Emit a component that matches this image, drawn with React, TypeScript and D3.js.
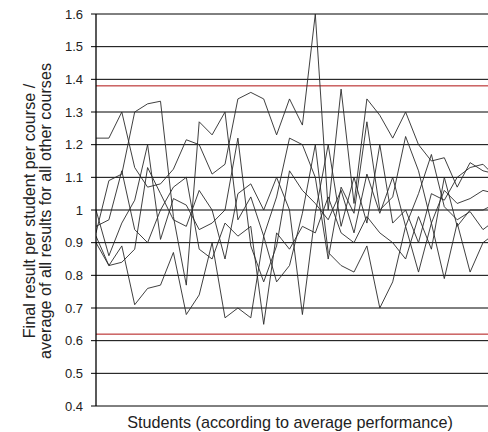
import React from "react";
import * as d3 from "d3";

const yTicks = [0.4, 0.5, 0.6, 0.7, 0.8, 0.9, 1.0, 1.1, 1.2, 1.3, 1.4, 1.5, 1.6];
const redLevels = [1.38, 0.62];

const s1 = [1.22, 1.22, 1.30, 1.13, 1.07, 1.08, 1.125, 1.215, 1.20, 1.11, 1.14, 1.34, 1.36, 1.34, 1.23, 1.34, 1.26, 1.60, 1.00, 1.37, 1.02, 1.34, 1.29, 1.22, 1.30, 1.20, 1.15, 1.16, 1.07, 1.145, 1.12, 1.11];
const s2 = [0.93, 1.09, 1.11, 1.30, 1.325, 1.333, 0.98, 0.77, 1.27, 1.23, 1.30, 0.97, 1.04, 0.92, 1.04, 1.22, 1.20, 1.10, 0.85, 1.07, 0.99, 1.27, 1.00, 1.04, 1.225, 1.12, 0.96, 1.06, 1.02, 1.035, 1.06, 1.05];
const s3 = [1.00, 0.86, 0.96, 1.03, 1.20, 0.91, 1.035, 1.015, 0.94, 0.96, 1.00, 1.22, 0.89, 0.78, 0.89, 1.12, 1.06, 1.02, 0.97, 1.06, 0.93, 1.11, 0.99, 1.10, 0.95, 1.05, 1.17, 1.01, 0.97, 0.995, 0.94, 0.97];
const s4 = [0.92, 0.83, 0.89, 0.71, 0.76, 0.77, 0.87, 0.68, 0.74, 0.90, 0.67, 0.70, 0.67, 0.92, 0.78, 0.83, 0.99, 1.20, 0.87, 0.83, 0.81, 0.89, 0.70, 0.78, 0.95, 0.81, 0.96, 0.79, 0.96, 0.81, 0.90, 0.93];
const s5 = [0.90, 0.83, 0.84, 0.88, 1.13, 1.05, 0.97, 0.95, 1.06, 1.00, 0.85, 1.05, 1.08, 1.00, 1.10, 1.00, 0.68, 0.99, 1.20, 0.95, 1.10, 0.96, 1.20, 0.96, 1.00, 0.90, 1.05, 1.03, 1.10, 1.13, 1.14, 1.10];
const s6 = [0.95, 0.97, 1.12, 0.94, 0.90, 1.00, 1.07, 1.10, 0.88, 0.85, 0.96, 0.92, 0.95, 0.65, 0.93, 0.88, 0.95, 0.93, 1.04, 0.93, 0.90, 0.98, 0.93, 0.90, 0.85, 0.98, 0.88, 1.10, 0.95, 1.00, 1.00, 1.02];
const seriesList = [s1, s2, s3, s4, s5, s6];

const xTitle = "Students (according to average performance)";
const yTitle1 = "Final result per student per course /";
const yTitle2 = "average of all results for all other courses";

export default function App() {
  const W = 488, H = 432;
  const left = 96, right = 488, top = 14, bottom = 406;
  const x = d3.scaleLinear().domain([0, 30]).range([left, 483]);
  const y = d3.scaleLinear().domain([0.4, 1.6]).range([bottom, top]);
  const line = d3.line<number>().x((_, i) => x(i)).y((d) => y(d));
  const font = "'Liberation Sans', Arial, Helvetica, sans-serif";
  const fmt = (v: number) => String(+v.toFixed(1));
  const midY = (top + bottom) / 2 + 1;
  return (
    <svg width={W} height={H} style={{ position: "absolute", left: 0, top: 0, background: "#fff" }}>
      <defs>
        <clipPath id="plot">
          <rect x={left} y={0} width={right - left} height={H} />
        </clipPath>
      </defs>
      {yTicks.map((t) => (
        <line key={"g" + t} x1={left} x2={right} y1={y(t)} y2={y(t)} stroke="#000" strokeWidth={1} />
      ))}
      {redLevels.map((r) => (
        <line key={"r" + r} x1={left} x2={right} y1={y(r)} y2={y(r)} stroke="#b01010" strokeWidth={1} />
      ))}
      <g clipPath="url(#plot)">
        {seriesList.map((s, k) => (
          <path key={k} d={line(s) || ""} fill="none" stroke="#2a2a2a" strokeWidth={0.9} />
        ))}
      </g>
      <line x1={left} x2={left} y1={top} y2={bottom} stroke="#000" strokeWidth={1.3} />
      {yTicks.map((t) => (
        <g key={"t" + t}>
          <line x1={left - 5} x2={left} y1={y(t)} y2={y(t)} stroke="#000" strokeWidth={1} />
          <text x={83} y={y(t)} dy="0.35em" textAnchor="end" fontFamily={font} fontSize={13} fill="#222">
            {fmt(t)}
          </text>
        </g>
      ))}
      <text x={290} y={428} textAnchor="middle" fontFamily={font} fontSize={16.2} fill="#222">
        {xTitle}
      </text>
      <g transform={`translate(0,${midY}) rotate(-90)`}>
        <text x={0} y={35} textAnchor="middle" fontFamily={font} fontSize={16.2} fill="#222">
          {yTitle1}
        </text>
        <text x={0} y={51} textAnchor="middle" fontFamily={font} fontSize={16.2} fill="#222">
          {yTitle2}
        </text>
      </g>
    </svg>
  );
}
